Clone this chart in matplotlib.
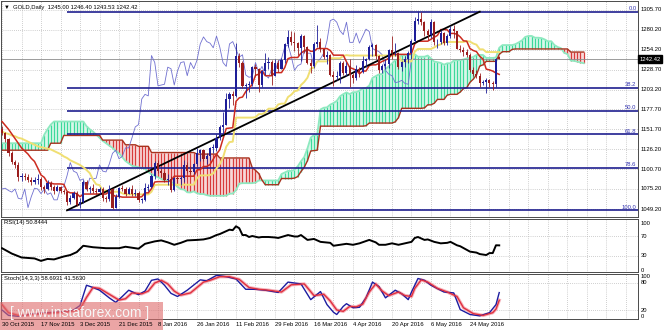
import matplotlib
matplotlib.use('Agg')
import matplotlib.pyplot as plt
import matplotlib.transforms as mtransforms
from matplotlib.patches import Rectangle
import numpy as np

plt.rcParams['font.family'] = ['Liberation Sans', 'DejaVu Sans']

#=====================================================
# GOLD daily, bar 0 = 30 Oct 2015, one bar per trading day

date_labels = ['30 Oct 2015', '17 Nov 2015', '3 Dec 2015', '21 Dec 2015', '8 Jan 2016',
               '26 Jan 2016', '11 Feb 2016', '29 Feb 2016', '16 Mar 2016', '4 Apr 2016',
               '20 Apr 2016', '6 May 2016', '24 May 2016']
date_bars = [0, 12, 24, 36, 48, 60, 72, 84, 96, 108, 120, 132, 144]

price_ticks = [1305.70, 1280.20, 1254.20, 1228.70, 1203.20, 1177.70, 1151.70,
               1126.20, 1100.70, 1075.20, 1049.20]

opens = [1152, 1147, 1139, 1121, 1110, 1106, 1090, 1092, 1090, 1087, 1084, 1086, 1088, 1077,
         1075, 1083, 1078, 1073, 1077, 1072, 1071, 1058, 1064, 1070, 1055, 1058, 1084, 1075,
         1076, 1073, 1071, 1075, 1063, 1062, 1075, 1051, 1065, 1076, 1075, 1069, 1075, 1068,
         1070, 1061, 1061, 1076, 1078, 1092, 1109, 1098, 1096, 1086, 1088, 1074, 1089, 1088,
         1089, 1106, 1098, 1097, 1107, 1121, 1125, 1114, 1117, 1128, 1128, 1141, 1155, 1158,
         1191, 1197, 1195, 1247, 1238, 1208, 1209, 1210, 1232, 1230, 1209, 1227, 1238, 1239,
         1221, 1238, 1230, 1241, 1262, 1271, 1265, 1263, 1257, 1272, 1258, 1238, 1233, 1262,
         1265, 1255, 1245, 1248, 1222, 1219, 1220, 1238, 1225, 1233, 1222, 1218, 1230, 1226,
         1240, 1243, 1258, 1261, 1246, 1228, 1234, 1236, 1254, 1250, 1250, 1232, 1239, 1243,
         1250, 1266, 1292, 1294, 1290, 1279, 1274, 1290, 1264, 1264, 1276, 1263, 1272, 1281,
         1278, 1256, 1254, 1252, 1248, 1228, 1223, 1221, 1212, 1213, 1215, 1211, 1210, 1245]
highs = [1156, 1149, 1141, 1124, 1112, 1110, 1096, 1095, 1094, 1091, 1090, 1094, 1090, 1080,
         1086, 1085, 1080, 1080, 1079, 1075, 1073, 1067, 1073, 1072, 1063, 1087, 1086, 1079,
         1082, 1076, 1078, 1077, 1066, 1080, 1076, 1068, 1078, 1080, 1077, 1078, 1080, 1075,
         1072, 1064, 1083, 1082, 1094, 1111, 1112, 1101, 1098, 1094, 1092, 1091, 1092, 1092,
         1112, 1110, 1104, 1109, 1128, 1127, 1126, 1122, 1129, 1133, 1146, 1157, 1174, 1199,
         1200, 1201, 1263, 1250, 1240, 1212, 1214, 1234, 1236, 1231, 1229, 1250, 1245, 1241,
         1242, 1241, 1244, 1263, 1280, 1278, 1277, 1264, 1275, 1274, 1259, 1242, 1264, 1287,
         1270, 1256, 1253, 1249, 1227, 1227, 1240, 1240, 1239, 1243, 1225, 1235, 1232, 1247,
         1244, 1261, 1263, 1262, 1248, 1236, 1243, 1256, 1272, 1263, 1251, 1240, 1246, 1253,
         1268, 1297, 1304, 1303, 1292, 1281, 1294, 1291, 1268, 1280, 1277, 1275, 1285, 1286,
         1279, 1260, 1258, 1255, 1250, 1232, 1229, 1224, 1215, 1218, 1217, 1214, 1244, 1246.4]
lows = [1145, 1136, 1118, 1107, 1102, 1085, 1085, 1086, 1084, 1080, 1081, 1082, 1074, 1070,
        1074, 1074, 1069, 1072, 1070, 1068, 1054, 1056, 1062, 1053, 1050, 1057, 1073, 1070,
        1070, 1068, 1069, 1060, 1058, 1060, 1049, 1050, 1064, 1072, 1066, 1068, 1066, 1066,
        1058, 1057, 1060, 1073, 1076, 1088, 1096, 1090, 1084, 1080, 1071, 1072, 1083, 1080,
        1084, 1096, 1094, 1094, 1105, 1111, 1111, 1107, 1113, 1122, 1124, 1138, 1146, 1157,
        1180, 1183, 1194, 1232, 1205, 1192, 1200, 1208, 1220, 1200, 1206, 1222, 1230, 1209,
        1220, 1226, 1230, 1238, 1258, 1261, 1253, 1248, 1240, 1250, 1236, 1225, 1231, 1258,
        1251, 1242, 1236, 1220, 1208, 1215, 1212, 1222, 1220, 1207, 1211, 1216, 1219, 1224,
        1232, 1241, 1247, 1243, 1225, 1225, 1230, 1231, 1243, 1246, 1230, 1227, 1232, 1237,
        1242, 1265, 1288, 1287, 1272, 1267, 1270, 1261, 1257, 1262, 1260, 1261, 1270, 1270,
        1255, 1251, 1246, 1245, 1226, 1221, 1218, 1206, 1209, 1199, 1206, 1203, 1207, 1242.4]
closes = [1147, 1139, 1121, 1110, 1106, 1090, 1092, 1090, 1087, 1084, 1086, 1088, 1077, 1075,
          1083, 1078, 1073, 1077, 1072, 1071, 1058, 1064, 1070, 1055, 1058, 1084, 1075, 1076,
          1073, 1071, 1075, 1063, 1062, 1075, 1051, 1065, 1076, 1075, 1069, 1075, 1068, 1070,
          1061, 1061, 1076, 1078, 1092, 1109, 1098, 1096, 1086, 1088, 1074, 1089, 1088, 1089,
          1106, 1098, 1097, 1107, 1121, 1125, 1114, 1117, 1128, 1128, 1141, 1155, 1158, 1191,
          1197, 1195, 1247, 1238, 1208, 1209, 1210, 1232, 1230, 1209, 1227, 1238, 1239, 1221,
          1238, 1230, 1241, 1262, 1271, 1265, 1263, 1257, 1272, 1258, 1238, 1233, 1262, 1265,
          1255, 1245, 1248, 1222, 1219, 1220, 1238, 1225, 1233, 1222, 1218, 1230, 1226, 1240,
          1243, 1258, 1261, 1246, 1228, 1234, 1236, 1254, 1250, 1250, 1232, 1239, 1243, 1250,
          1266, 1292, 1294, 1290, 1279, 1274, 1290, 1264, 1264, 1276, 1263, 1272, 1281, 1278,
          1256, 1254, 1252, 1248, 1228, 1223, 1221, 1212, 1213, 1215, 1211, 1210, 1243, 1242.42]

# Ichimoku lines as drawn on the chart
tenkan = ([1162, 1157, 1152, 1146, 1140, 1134, 1128, 1124,
           1120, 1114.5, 1110.5, 1102, 1093, 1090, 1083, 1082.5, 1081.5, 1081.5, 1081.5, 1081,
           1072, 1070, 1070, 1069, 1065] + [1068.5] * 8 + [1072, 1067.5, 1065.5, 1065.5] +
          [1064.5] * 6 + [1065, 1070, 1070, 1075.5, 1084] + [1084.5] * 4 + [1086] + [1091.5] * 7 +
          [1099.5, 1100, 1104, 1104, 1106.5, 1113.5, 1120, 1125.5, 1139.5, 1153, 1153.5, 1154,
           1188, 1192.5, 1193.5, 1200.5, 1204.5, 1210, 1221.5, 1223, 1227.5] + [1221] * 3 +
          [1225] * 3 + [1231.5, 1243] + [1244.5] * 3 + [1250, 1253, 1255, 1252.5, 1252.5] +
          [1256] * 4 + [1253.5] + [1247.5] * 4 +
          [1239, 1231.5, 1230, 1228, 1223.5, 1227, 1227, 1234, 1235, 1235, 1237, 1239.5,
           1241, 1243.5] + [1248.5] * 6 + [1249.5, 1262] + [1265.5] * 4 +
          [1268, 1270.5, 1273, 1280.5, 1280.5, 1280, 1275.5, 1275.5, 1274.5, 1271, 1266, 1265.5,
           1256, 1253.5, 1252, 1246, 1242.5, 1229.5, 1228.5, 1227, 1224.5, 1222.7])
kijun = ([1149, 1147, 1146, 1144, 1143, 1141, 1140, 1138, 1136, 1134, 1132, 1130, 1129, 1128,
          1127, 1126, 1124, 1122, 1120, 1117, 1115, 1112, 1110, 1108, 1106,
          1103, 1099.5, 1095.5, 1087, 1081, 1080, 1073, 1072.5, 1072] + [1071.5] * 3 + [1069.5] +
         [1068] * 8 + [1071.5, 1080] + [1080.5] * 12 +
         [1089, 1092.5, 1092.5, 1092.5, 1093, 1095, 1101.5, 1107, 1115.5, 1129.5, 1135.5, 1136] +
         [1167] * 6 + [1167.5, 1171.5, 1171.5, 1173.5] + [1178.5] * 3 +
         [1184, 1185, 1185, 1193.5, 1196.5, 1201, 1202, 1209, 1213, 1218.5, 1230, 1231.5] +
         [1239.5] * 4 + [1243.5] * 4 + [1246.5, 1247.5] + [1247] * 16 + [1239.5] * 4 + [1252] +
         [1255.5] * 5 + [1257.5, 1260, 1261.5, 1264] + [1264.5] * 6 +
         [1265.5, 1265, 1262.5, 1261, 1255, 1255] + [1251.5] * 5)
span_a = ([1134] * 13 + [1145, 1152, 1158] + [1162] * 10 +
          [1156, 1152, 1149, 1145, 1141, 1137, 1134, 1131, 1128, 1124, 1121, 1116, 1111, 1108,
           1105, 1104, 1103, 1102, 1101, 1097, 1094, 1092, 1090, 1088, 1086] +
          [1085.75, 1084, 1082, 1077.75, 1074.75, 1074.25, 1070.75, 1070.5, 1072, 1069.5, 1068.5,
           1068.5, 1067] + [1066.25] * 5 + [1066.5, 1069, 1069, 1073.5, 1082] + [1082.5] * 4 +
          [1083.25] + [1086] * 7 +
          [1094.25, 1096.25, 1098.25, 1098.25, 1099.75, 1104.25, 1110.75, 1116.25, 1127.5, 1141.25,
           1144.5, 1145, 1177.5, 1179.75, 1180.25, 1183.75, 1185.75, 1188.5, 1194.5, 1197.25,
           1199.5, 1197.25, 1199.75, 1199.75, 1201.75, 1204.5, 1205, 1208.25, 1218.25, 1220.5,
           1222.75, 1223.25, 1229.5, 1233, 1236.75, 1241.25, 1242] + [1247.75] * 4 + [1248.5] +
          [1245.5] * 3 +
          [1247, 1243.25, 1239.25, 1238.5, 1237.5, 1235.25, 1237, 1237, 1240.5, 1241, 1241, 1242,
           1243.25, 1244, 1245.25] + [1247.75] * 3 + [1244] * 3 + [1244.5, 1257] + [1260.5] * 4 +
          [1261.75, 1264, 1266.5, 1271, 1272.25, 1272.25, 1270, 1270, 1269.5, 1267.75, 1265.25,
           1265.5, 1260.5, 1258, 1256.5, 1250.5, 1248.75, 1240.5, 1240, 1239.25, 1238, 1237.1])
span_b = ([1125] * 15 + [1134] * 4 + [1144] * 12 + [1138] * 7 + [1132] * 4 + [1130] * 4 +
          [1122] * 14 + [1120] * 7 + [1115] * 10 +
          [1102.5, 1099, 1095, 1086.5] + [1080.5] * 5 + [1088.5] * 4 +
          [1089, 1091, 1097.5, 1103, 1111.5, 1124, 1124.5, 1125] + [1156] * 14 + [1156.5] +
          [1160] * 8 + [1161.5, 1167] + [1179] * 7 + [1179.5, 1183.5, 1183.5, 1185.5] +
          [1190.5] * 3 + [1196] + [1197] * 3 +
          [1200, 1204.5, 1205.5, 1212.5, 1216.5, 1222, 1233.5, 1235] +
          [1239.5] * 4 + [1248.5] + [1252] * 3 + [1255] + [1255.5] * 17 + [1251.5] * 5)
chikou_shift = 26

# Fibonacci retracement drawn from the Nov low to the May high
fib_levels = [0.0, 38.2, 50.0, 61.8, 78.6, 100.0]
fib_low, fib_high = 1047.5, 1303.5
fib_start_bar, fib_end_bar = 20, 147

# RSI(14)
rsi_bars = [0, 3, 6, 10, 12, 14, 16, 19, 21, 23, 25, 28, 32, 36, 38, 42, 44, 47, 49, 51, 53, 55,
            57, 60, 62, 64, 66, 67, 69, 70, 71, 72, 73, 74, 75, 76, 77, 79, 80, 82, 84, 85, 87,
            88, 90, 91, 92, 94, 96, 98, 101, 102, 104, 106, 108, 110, 113, 115, 116, 118, 120,
            122, 126, 127, 128, 130, 131, 133, 135, 137, 138, 140, 141, 144, 146, 147, 149, 150,
            151, 152, 153]
rsi_vals = [45, 34, 26, 24, 19, 23, 22, 28, 31, 37, 50, 47, 45, 45, 48, 44, 54, 59, 61, 57, 52, 56,
            61, 62, 63, 66, 72, 74, 80, 83, 82, 90, 86, 72, 72, 68, 70, 67, 68, 68, 67, 66, 70,
            72, 69, 69, 72, 62, 64, 58, 56, 50, 52, 54, 52, 55, 62, 57, 52, 52, 55,
            52, 58, 66, 68, 62, 63, 58, 55, 56, 58, 51, 49, 38, 36, 33, 31, 35,
            35, 51, 50.8]

# Stochastic(14,3,3)
stoch_k_bars = [0, 2, 5, 8, 11, 14, 17, 20, 22, 24, 26, 28, 30, 33, 35, 37, 39, 42, 44, 46, 48,
                50, 52, 54, 57, 61, 63, 66, 69, 72, 75, 78, 81, 85, 88, 92, 95, 98, 100, 102, 103,
                105, 106, 108, 110, 112, 114, 116, 118, 121, 123, 125, 126, 128, 130, 132, 136,
                139, 141, 144, 147, 150, 152, 153]
stoch_k = [20, 8, 6, 10, 12, 14, 15, 17, 20, 30, 75, 70, 64, 47, 37, 50, 64, 54, 62, 86, 89,
           75, 57, 50, 64, 87, 85, 97, 94, 89, 66, 66, 64, 59, 82, 78, 43, 61, 32, 15, 10,
           28, 34, 25, 26, 47, 82, 72, 47, 64, 56, 43, 60, 90, 86, 75, 60,
           58, 21, 10, 7, 14, 32, 58.7]
stoch_d_bars = [0, 2, 5, 8, 11, 14, 17, 20, 22, 24, 26, 28, 30, 33, 36, 38, 40, 43, 45, 47, 49,
                51, 53, 55, 58, 62, 64, 67, 70, 73, 76, 79, 82, 86, 89, 93, 96, 99, 101, 103, 105,
                107, 109, 111, 113, 115, 117, 119, 122, 124, 126, 127, 129, 131, 134, 137, 140,
                142, 145, 148, 151, 152, 153]
stoch_d = [32, 14, 8, 9, 11, 13, 14, 16, 18, 22, 48, 70, 68, 55, 42, 45, 58, 56, 62, 80, 86,
           78, 62, 53, 58, 82, 86, 94, 94, 88, 70, 66, 64, 60, 76, 78, 52, 55, 40, 20, 17,
           28, 27, 33, 60, 78, 62, 52, 60, 52, 50, 68, 87, 82, 68, 60, 50,
           25, 12, 8, 14, 22, 41.6]

#=====================================================

W, H = 665, 330
XMIN, XMAX = -0.31, 195.7
GRID = dict(color='#a4a4a4', lw=0.5, ls=(0, (1, 2)), zorder=0.5)
SMALL = 4.2


def pxRect(x0, y0, x1, y1):
    return [x0 / W, 1 - y1 / H, (x1 - x0) / W, (y1 - y0) / H]


def styleAxes(ax):
    ax.set_xlim(XMIN, XMAX)
    ax.set_xticks([])
    ax.set_yticks([])
    for s in ax.spines.values():
        s.set_color('#4a4a4a')
        s.set_linewidth(0.7)
    for gb in range(0, 196, 6):
        ax.axvline(gb, **GRID)

#-----------------------------------------------------

def plotMain(ax):
    styleAxes(ax)
    ax.set_ylim(1038.9, 1317.3)
    for p in price_ticks:
        ax.axhline(p, **GRID)

    # cloud
    cb = np.arange(len(span_a))
    a = np.array(span_a, dtype=float)
    b = np.array(span_b, dtype=float)
    up = a >= b
    ax.fill_between(cb, a, b, where=up, interpolate=True, color='#d9f7ea', lw=0, zorder=1)
    ax.fill_between(cb, a, b, where=~up, interpolate=True, color='#f7d9d9', lw=0, zorder=1)
    ax.vlines(cb[up], b[up], a[up], color='#3cd99b', lw=0.9, zorder=1.5)
    ax.vlines(cb[~up], a[~up], b[~up], color='#d83b3b', lw=0.9, zorder=1.5)
    ax.plot(cb, a, color='#8ee9c0', lw=1.3, zorder=1.6)
    ax.plot(cb, b, color='#a8331f', lw=1.0, zorder=1.6)

    # fibonacci
    fib_prices = [fib_high - lvl / 100 * (fib_high - fib_low) for lvl in fib_levels]
    ax.hlines(fib_prices, fib_start_bar, XMAX, color='#1f1f8f', lw=1.2, zorder=3)
    for lvl, p in zip(fib_levels, fib_prices):
        ax.text(195.2, p + 0.8, f'{lvl:.1f}', color='#3434b0', fontsize=SMALL,
                ha='right', va='bottom', zorder=6)
    ax.plot([fib_start_bar, fib_end_bar], [fib_low, fib_high], color='black', lw=1.3, zorder=4.5)

    bars = np.arange(len(closes))
    c = np.array(closes, dtype=float)
    ax.axhline(c[-1], color='#8c8c8c', lw=0.6, zorder=2.5)

    # ichimoku lines
    ax.plot(bars[:len(c) - chikou_shift], c[chikou_shift:], color='#7070d0', lw=0.6, zorder=2.8)
    ax.plot(bars, kijun, color='#f0df72', lw=1.4, zorder=3.2)
    ax.plot(bars, tenkan, color='#cc2b1f', lw=1.1, zorder=4)

    # candles
    o = np.array(opens, dtype=float)
    h = np.array(highs, dtype=float)
    l = np.array(lows, dtype=float)
    cols = np.where(c >= o, '#1e1e98', '#9b1e1e')
    ax.vlines(bars, l, h, colors=cols, lw=0.6, zorder=5)
    ax.bar(bars, np.maximum(np.abs(c - o), 0.8), bottom=np.minimum(o, c), width=0.62,
           color=cols, lw=0, zorder=5)

    # price scale
    trans = mtransforms.blended_transform_factory(ax.transAxes, ax.transData)
    for p in price_ticks:
        ax.text(1.0047, p, f'{p:.2f}', transform=trans, fontsize=SMALL, ha='left',
                va='center', clip_on=False)
    ax.text(1.0025, c[-1], f'{closes[-1]:.2f}', transform=trans, fontsize=SMALL, ha='left',
            va='center', color='white', clip_on=False, zorder=7,
            bbox=dict(boxstyle='square,pad=0.25', fc='black', ec='black'))

    ax.text(0.004, 0.972, '\u25bc  GOLD,Daily  1245.00 1246.40 1243.53 1242.42',
            transform=ax.transAxes, fontsize=SMALL, ha='left', va='center', zorder=8)

#-----------------------------------------------------

def plotRsi(ax):
    styleAxes(ax)
    ax.set_ylim(-3.8, 104.9)
    for lv in [70, 30]:
        ax.axhline(lv, **GRID)
    ax.plot(rsi_bars, rsi_vals, color='black', lw=1.4, zorder=3)
    trans = mtransforms.blended_transform_factory(ax.transAxes, ax.transData)
    for lv, va in [(100, 'top'), (70, 'center'), (30, 'center'), (0, 'center')]:
        ax.text(1.0047, lv, str(lv), transform=trans, fontsize=SMALL, ha='left', va=va,
                clip_on=False)
    ax.text(0.004, 0.93, 'RSI(14) 50.8444', transform=ax.transAxes, fontsize=SMALL,
            ha='left', va='center')

#-----------------------------------------------------

def plotStoch(ax):
    styleAxes(ax)
    ax.set_ylim(0, 100)
    for lv in [80, 20]:
        ax.axhline(lv, **GRID)
    ax.plot(stoch_d_bars, stoch_d, color='#f6b3bb', lw=2.4, zorder=2)
    ax.plot(stoch_k_bars, stoch_k, color='#1c1ca0', lw=1.0, zorder=3)
    ax.plot(stoch_d_bars, stoch_d, color='#e0303f', lw=1.0, zorder=3.5)
    trans = mtransforms.blended_transform_factory(ax.transAxes, ax.transData)
    for lv, va in [(100, 'top'), (80, 'center'), (20, 'center'), (0, 'bottom')]:
        ax.text(1.0047, lv, str(lv), transform=trans, fontsize=SMALL, ha='left', va=va,
                clip_on=False)
    ax.text(0.004, 0.89, 'Stoch(14,3,3) 58.6931 41.5630', transform=ax.transAxes,
            fontsize=SMALL, ha='left', va='center')

#=====================================================

def main():

    fig = plt.figure(figsize=(W / 100, H / 100), dpi=100)
    fig.patch.set_facecolor('white')

    ax_main = fig.add_axes(pxRect(1, 1, 638, 217))
    ax_rsi = fig.add_axes(pxRect(1, 219, 638, 272))
    ax_sto = fig.add_axes(pxRect(1, 274, 638, 319))

    plotMain(ax_main)
    plotRsi(ax_rsi)
    plotStoch(ax_sto)

    # watermark
    fig.add_artist(Rectangle((0, 0), 163 / W, 28 / H, transform=fig.transFigure,
                             fc='#df6e6e', alpha=0.62, lw=0, zorder=10))
    fig.text(80 / W, 1 - 313 / H, '[ www.instaforex.com ]', color='#f6f6f6', fontsize=10,
             ha='center', va='center', zorder=11)

    # date axis
    trans = mtransforms.blended_transform_factory(ax_sto.transData, fig.transFigure)
    for b, s in zip(date_bars, date_labels):
        fig.text(b, 1 - 324.5 / H, s, transform=trans, fontsize=SMALL, ha='left',
                 va='center', zorder=12)

    fig.savefig('out.png', dpi=100)

    return

#=====================================================

if __name__ == '__main__':
    main()
